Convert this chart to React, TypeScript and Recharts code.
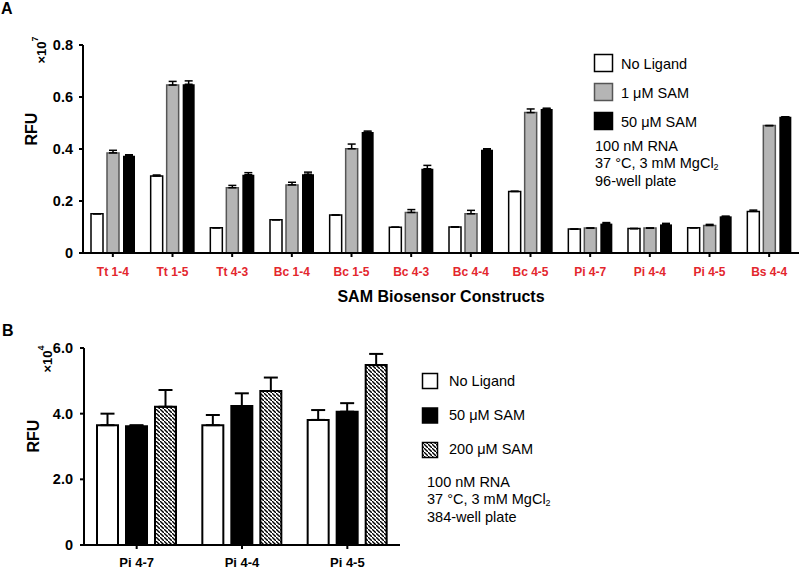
import React from "react";
import { Bar, BarChart, ErrorBar, XAxis, YAxis } from "recharts";

// ---- panel A data (x10^7 RFU) ----
const constructsA = ["Tt 1-4", "Tt 1-5", "Tt 4-3", "Bc 1-4", "Bc 1-5", "Bc 4-3", "Bc 4-4", "Bc 4-5", "Pi 4-7", "Pi 4-4", "Pi 4-5", "Bs 4-4"];
const noLigandA = [0.151, 0.296, 0.097, 0.128, 0.146, 0.099, 0.1, 0.237, 0.092, 0.094, 0.097, 0.16];
const noLigandErrA = [0, 0.004, 0, 0, 0, 0, 0, 0, 0, 0, 0, 0.005];
const sam1A = [0.385, 0.646, 0.251, 0.262, 0.401, 0.156, 0.151, 0.54, 0.096, 0.096, 0.106, 0.49];
const sam1ErrA = [0.01, 0.014, 0.009, 0.01, 0.018, 0.011, 0.013, 0.014, 0, 0, 0.004, 0];
const sam50A = [0.374, 0.649, 0.301, 0.303, 0.465, 0.324, 0.397, 0.554, 0.113, 0.11, 0.141, 0.524];
const sam50ErrA = [0.004, 0.013, 0.008, 0.008, 0.004, 0.013, 0.004, 0.003, 0.004, 0.004, 0, 0];
const ticksA = [0, 0.2, 0.4, 0.6, 0.8];
const legendA = ["No Ligand", "1 μM SAM", "50 μM SAM"];

// ---- panel B data (x10^4 RFU) ----
const constructsB = ["Pi 4-7", "Pi 4-4", "Pi 4-5"];
const noLigandB = [3.65, 3.65, 3.81];
const noLigandErrB = [0.35, 0.31, 0.3];
const sam50B = [3.62, 4.23, 4.06];
const sam50ErrB = [0.03, 0.39, 0.26];
const sam200B = [4.21, 4.69, 5.48];
const sam200ErrB = [0.51, 0.41, 0.34];
const ticksB = [0, 2, 4, 6];
const legendB = ["No Ligand", "50 μM SAM", "200 μM SAM"];

const FONT = '"Liberation Sans", Arial, Helvetica, sans-serif';
const RED = "#e3262d";

const rowsA = constructsA.map((name, i) => ({
  name,
  none: noLigandA[i],
  noneErr: [0, noLigandErrA[i]],
  s1: sam1A[i],
  s1Err: [0, sam1ErrA[i]],
  s50: sam50A[i],
  s50Err: [0, sam50ErrA[i]],
}));

const rowsB = constructsB.map((name, i) => ({
  name,
  none: noLigandB[i],
  noneErr: [0, noLigandErrB[i]],
  s50: sam50B[i],
  s50Err: [0, sam50ErrB[i]],
  s200: sam200B[i],
  s200Err: [0, sam200ErrB[i]],
}));

const fmt = (v: number) => (v === 0 ? "0" : v.toFixed(1));
const axisLine = { stroke: "#000", strokeWidth: 2 };

const ChartA = () => (
  <BarChart width={800} height={305} data={rowsA} margin={{ top: 45, right: 1, bottom: 0, left: 0 }} barSize={12} barGap={4}>
    <XAxis
      dataKey="name"
      height={52}
      interval={0}
      axisLine={axisLine}
      tickLine={axisLine}
      tickSize={4}
      tickMargin={10}
      tick={{ fill: RED, fontSize: 12, fontWeight: 700, fontFamily: FONT }}
    />
    <YAxis
      width={83}
      domain={[0, 0.8]}
      ticks={ticksA}
      tickFormatter={fmt}
      axisLine={axisLine}
      tickLine={axisLine}
      tickSize={4}
      tickMargin={6}
      tick={{ fill: "#000", fontSize: 14.5, fontWeight: 700, fontFamily: FONT }}
    />
    <Bar dataKey="none" fill="#fff" stroke="#000" strokeWidth={1.5} isAnimationActive={false}>
      <ErrorBar dataKey="noneErr" width={4} stroke="#000" strokeWidth={1.5} isAnimationActive={false} />
    </Bar>
    <Bar dataKey="s1" fill="#b5b5b5" stroke="#555" strokeWidth={1.5} isAnimationActive={false}>
      <ErrorBar dataKey="s1Err" width={4} stroke="#000" strokeWidth={1.5} isAnimationActive={false} />
    </Bar>
    <Bar dataKey="s50" fill="#000" isAnimationActive={false}>
      <ErrorBar dataKey="s50Err" width={4} stroke="#000" strokeWidth={1.5} isAnimationActive={false} />
    </Bar>
  </BarChart>
);

const ChartB = () => (
  <BarChart width={420} height={267} data={rowsB} margin={{ top: 43, right: 20, bottom: 0, left: 0 }} barSize={21} barGap={8}>
    <defs>
      <pattern id="hatchB" patternUnits="userSpaceOnUse" width="4" height="4">
        <rect width="4" height="4" fill="#fff" />
        <path d="M-1,-1 l2,2 M0,0 l4,4 M3,3 l2,2" stroke="#000" strokeWidth={1.4} />
      </pattern>
    </defs>
    <XAxis
      dataKey="name"
      height={27}
      axisLine={axisLine}
      tickLine={axisLine}
      tickSize={4}
      tickMargin={9}
      tick={{ fill: "#000", fontSize: 13, fontWeight: 700, fontFamily: FONT }}
    />
    <YAxis
      width={84}
      domain={[0, 6]}
      ticks={ticksB}
      tickFormatter={fmt}
      axisLine={axisLine}
      tickLine={axisLine}
      tickSize={4}
      tickMargin={7}
      tick={{ fill: "#000", fontSize: 14.5, fontWeight: 700, fontFamily: FONT }}
    />
    <Bar dataKey="none" fill="#fff" stroke="#000" strokeWidth={2} isAnimationActive={false}>
      <ErrorBar dataKey="noneErr" width={7} stroke="#000" strokeWidth={2} isAnimationActive={false} />
    </Bar>
    <Bar dataKey="s50" fill="#000" stroke="#000" strokeWidth={2} isAnimationActive={false}>
      <ErrorBar dataKey="s50Err" width={7} stroke="#000" strokeWidth={2} isAnimationActive={false} />
    </Bar>
    <Bar dataKey="s200" fill="url(#hatchB)" stroke="#000" strokeWidth={2} isAnimationActive={false}>
      <ErrorBar dataKey="s200Err" width={7} stroke="#000" strokeWidth={2} isAnimationActive={false} />
    </Bar>
  </BarChart>
);

const Conditions = ({ x, y, plate }: { x: number; y: number; plate: string }) => (
  <g fontSize={14.5} fontFamily={FONT} fill="#000">
    <text x={x} y={y} dominantBaseline="central">100 nM RNA</text>
    <text x={x} y={y + 17} dominantBaseline="central">
      37 °C, 3 mM MgCl<tspan dy={4} fontSize={9}>2</tspan>
    </text>
    <text x={x} y={y + 35} dominantBaseline="central">{plate}</text>
  </g>
);

const Overlay = () => (
  <svg width={800} height={572} style={{ position: "absolute", left: 0, top: 0, pointerEvents: "none" }}>
    <defs>
      <pattern id="hatchLeg" patternUnits="userSpaceOnUse" width="4" height="4">
        <rect width="4" height="4" fill="#fff" />
        <path d="M-1,-1 l2,2 M0,0 l4,4 M3,3 l2,2" stroke="#000" strokeWidth={1.4} />
      </pattern>
    </defs>
    <g fontFamily={FONT} fontWeight={700} fill="#000">
      <text x={1} y={14} fontSize={16}>A</text>
      <text x={2} y={336} fontSize={16}>B</text>
      <text x={31} y={129} fontSize={16} textAnchor="middle" dominantBaseline="central" transform="rotate(-90 31 129)">RFU</text>
      <text x={33} y={436} fontSize={16} textAnchor="middle" dominantBaseline="central" transform="rotate(-90 33 436)">RFU</text>
      <text x={41} y={50} fontSize={13} textAnchor="middle" dominantBaseline="central" transform="rotate(-90 41 50)">
        ×10<tspan dy={-6} fontSize={9}>7</tspan>
      </text>
      <text x={47} y={359} fontSize={13} textAnchor="middle" dominantBaseline="central" transform="rotate(-90 47 359)">
        ×10<tspan dy={-6} fontSize={9}>4</tspan>
      </text>
      <text x={441} y={302} fontSize={16} textAnchor="middle">SAM Biosensor Constructs</text>
    </g>
    {/* legend A */}
    <g fontFamily={FONT} fontSize={14.5} fill="#000">
      {legendA.map((label, i) => (
        <g key={label}>
          <rect x={594.5} y={54.5 + i * 29} width={18} height={17} fill={["#fff", "#b5b5b5", "#000"][i]} stroke={["#000", "#555", "#000"][i]} strokeWidth={1.5} />
          <text x={621} y={64 + i * 29} dominantBaseline="central">{label}</text>
        </g>
      ))}
    </g>
    <Conditions x={595} y={146} plate="96-well plate" />
    {/* legend B */}
    <g fontFamily={FONT} fontSize={14.5} fill="#000">
      {legendB.map((label, i) => (
        <g key={label}>
          <rect x={422.5} y={373.5 + i * 34.5} width={15} height={15} fill={["#fff", "#000", "url(#hatchLeg)"][i]} stroke="#000" strokeWidth={1.5} />
          <text x={449} y={381 + i * 34} dominantBaseline="central">{label}</text>
        </g>
      ))}
    </g>
    <Conditions x={427} y={482} plate="384-well plate" />
  </svg>
);

export default function App() {
  return (
    <div style={{ position: "relative", width: 800, height: 572, background: "#fff", overflow: "hidden" }}>
      <style>{"body{margin:0}"}</style>
      <div style={{ position: "absolute", left: 0, top: 0 }}>
        <ChartA />
      </div>
      <div style={{ position: "absolute", left: 0, top: 305 }}>
        <ChartB />
      </div>
      <Overlay />
    </div>
  );
}
